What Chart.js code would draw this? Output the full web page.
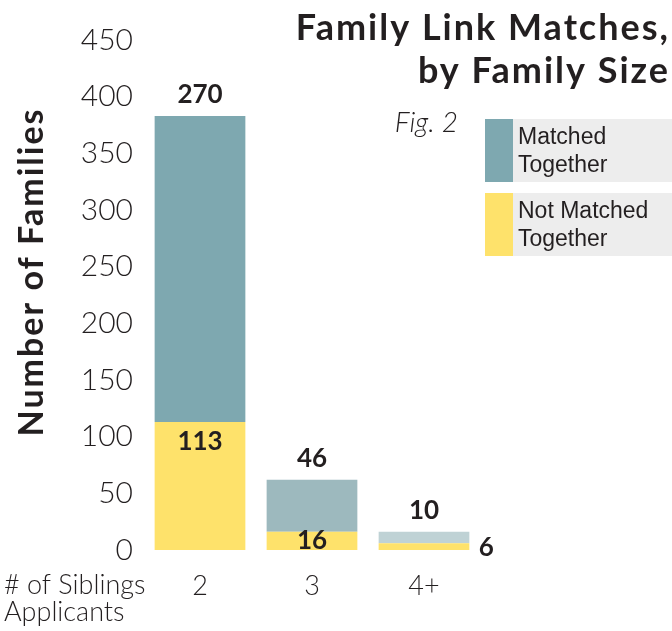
<!DOCTYPE html>
<html>
<head>
<meta charset="utf-8">
<script src="https://cdn.jsdelivr.net/npm/chart.js@4"></script>
<style>
  html, body { margin: 0; padding: 0; background: #fff; }
  #wrap { position: relative; width: 672px; height: 631px; }
</style>
</head>
<body>
<div id="wrap"><canvas id="famChart" width="672" height="631"></canvas></div>
<script>
// data
const sizes = ['2', '3', '4+'];
const notMatched = [113, 16, 6];
const matched = [270, 46, 10];
const yTicks = [0, 50, 100, 150, 200, 250, 300, 350, 400, 450];

const seriesNames = ['Matched Together', 'Not Matched Together'];
const matchedColors = ['#7ea8b0', '#9db9be', '#bfd2d5'];
const yellow = '#fee26b';
const ink = '#231f20';

// labels, titles, legend drawn on top
const extras = {
    id: 'extras',
    afterDatasetsDraw(chart) {
        const c = chart.ctx;
        const yMeta = chart.getDatasetMeta(0);
        const mMeta = chart.getDatasetMeta(1);
        c.save();
        c.fillStyle = ink;
        c.textAlign = 'center';
        c.textBaseline = 'middle';
        c.font = 'bold 26px Lato';
        mMeta.data.forEach((bar, i) => {
            c.fillText(matched[i], bar.x, bar.y - 21);
        });
        yMeta.data.forEach((bar, i) => {
            if (i === yMeta.data.length - 1) {
                c.fillText(notMatched[i], bar.x + bar.width / 2 + 17, bar.y + 4);
            } else {
                const mid = (bar.y + bar.base) / 2;
                c.fillText(notMatched[i], bar.x, Math.min(bar.y + 20, mid));
            }
        });

        // title
        c.textAlign = 'right';
        c.letterSpacing = '2px';
        c.font = 'bold 36px Lato';
        c.fillText('Family Link Matches,', 670, 28);
        c.fillText('by Family Size', 670, 71);
        c.letterSpacing = '0px';
        c.font = 'italic 300 28px Lato';
        c.fillText('Fig. 2', 458, 123);

        // y axis title
        c.save();
        c.translate(32, 272);
        c.rotate(-Math.PI / 2);
        c.textAlign = 'center';
        c.letterSpacing = '2px';
        c.font = 'bold 34px Lato';
        c.fillText('Number of Families', 0, 0);
        c.restore();

        // x axis caption
        c.textAlign = 'left';
        c.font = '300 27px Lato';
        c.fillText('# of Siblings', 4, 585);
        c.fillText('Applicants', 4, 612);

        // legend
        const items = [
            { color: matchedColors[0], y: 119, lines: ['Matched', 'Together'] },
            { color: yellow, y: 193, lines: ['Not Matched', 'Together'] }
        ];
        items.forEach(it => {
            c.fillStyle = '#ededed';
            c.fillRect(513, it.y, 159, 63);
            c.fillStyle = it.color;
            c.fillRect(485, it.y, 28, 63);
            c.fillStyle = ink;
            c.font = '23px "Liberation Sans"';
            c.fillText(it.lines[0], 518, it.y + 19);
            c.fillText(it.lines[1], 518, it.y + 47);
        });
        c.restore();
    }
};

const ctx = document.getElementById('famChart').getContext('2d');

const myChart = new Chart(ctx, {
    type: 'bar',
    data: {
        labels: sizes,
        datasets: [{
            label: seriesNames[1],
            data: notMatched,
            backgroundColor: yellow,
            barPercentage: 0.81,
            categoryPercentage: 1
        }, {
            label: seriesNames[0],
            data: matched,
            backgroundColor: matchedColors,
            barPercentage: 0.81,
            categoryPercentage: 1
        }]
    },
    options: {
        responsive: false,
        animation: false,
        layout: { padding: { top: 40, right: 192, bottom: 0, left: 0 } },
        plugins: {
            legend: { display: false },
            tooltip: { enabled: false }
        },
        scales: {
            x: {
                stacked: true,
                grid: { display: false, drawTicks: false },
                border: { display: false },
                ticks: { color: ink, font: { family: 'Lato', size: 27, weight: '300' }, padding: 20 },
                afterFit: s => { s.height = 81; }
            },
            y: {
                stacked: true,
                min: 0,
                max: 450,
                grid: { display: false, drawTicks: false },
                border: { display: false },
                afterBuildTicks: s => { s.ticks = yTicks.map(v => ({ value: v })); },
                ticks: { color: ink, font: { family: 'Lato', size: 30, weight: '300' }, padding: 11 },
                afterFit: s => { s.width = 144; }
            }
        }
    },
    plugins: [extras]
});
myChart.update();
</script>
</body>
</html>
